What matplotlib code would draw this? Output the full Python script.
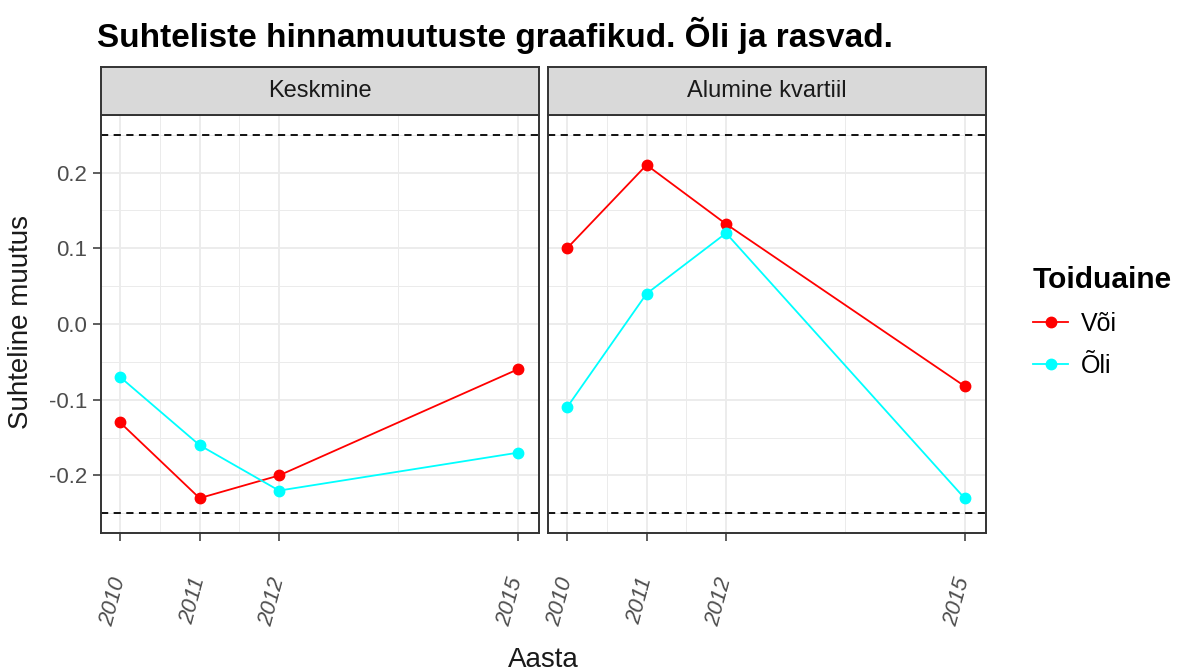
import numpy as np
import matplotlib.pyplot as plt
from matplotlib.lines import Line2D
from matplotlib.transforms import ScaledTranslation

plt.rcParams["font.family"] = ["Liberation Sans", "DejaVu Sans"]

aastad = [2010, 2011, 2012, 2015]
paneelid = ["Keskmine", "Alumine kvartiil"]
voi = {
    "Keskmine": [-0.13, -0.23, -0.20, -0.06],
    "Alumine kvartiil": [0.10, 0.21, 0.132, -0.082],
}
oli = {
    "Keskmine": [-0.07, -0.16, -0.22, -0.17],
    "Alumine kvartiil": [-0.11, 0.04, 0.12, -0.23],
}
piirid = [0.25, -0.25]

W, H = 1180, 672
fig = plt.figure(figsize=(W / 100, H / 100), dpi=100)

panel_x = [101, 548]
panel_w = 438
top, bottom = 115, 533
strip_h = 48

for i, nimi in enumerate(paneelid):
    x0 = panel_x[i]
    ax = fig.add_axes([x0 / W, 1 - bottom / H, panel_w / W, (bottom - top) / H])
    ax.set_xlim(2009.76, 2015.27)
    ax.set_ylim(-0.276, 0.276)
    ax.set_xticks(aastad)
    ax.set_xticks([2010.5, 2011.5, 2013.5], minor=True)
    ax.set_yticks([-0.2, -0.1, 0.0, 0.1, 0.2])
    ax.set_yticks([-0.25, -0.15, -0.05, 0.05, 0.15, 0.25], minor=True)
    ax.grid(True, which="major", color="#EBEBEB", lw=1.3)
    ax.grid(True, which="minor", color="#EBEBEB", lw=0.7)
    ax.set_axisbelow(True)
    for s in ax.spines.values():
        s.set_color("#333333")
        s.set_linewidth(1.4)
    ax.tick_params(which="minor", length=0)
    ax.tick_params(which="major", length=6, width=1.1, color="#333333",
                   labelcolor="#4D4D4D", labelsize=16)
    ax.tick_params(axis="x", pad=24)
    ax.tick_params(axis="y", pad=4)
    ax.set_xticklabels([str(a) for a in aastad], rotation=75,
                       style="italic", ha="center", va="top")
    for lab in ax.get_xticklabels():
        lab.set_transform(lab.get_transform()
                          + ScaledTranslation(-0.07, 0, fig.dpi_scale_trans))
    if i == 0:
        ax.set_yticklabels(["-0.2", "-0.1", "0.0", "0.1", "0.2"])
    else:
        ax.set_yticklabels([])
        ax.tick_params(axis="y", length=0)
    for p in piirid:
        ax.axhline(p, color="black", ls=(0, (4, 3)), lw=1.3)
    ax.plot(aastad, voi[nimi], color="#FF0000", lw=1.3, marker="o", ms=7.5)
    ax.plot(aastad, oli[nimi], color="#00FFFF", lw=1.3, marker="o", ms=7.5)

    sax = fig.add_axes([x0 / W, 1 - top / H, panel_w / W, strip_h / H])
    sax.set_facecolor("#D9D9D9")
    sax.set_xticks([])
    sax.set_yticks([])
    for s in sax.spines.values():
        s.set_color("#333333")
        s.set_linewidth(1.4)
    sax.text(0.5, 0.5, nimi, ha="center", va="center", fontsize=17,
             color="#1A1A1A", transform=sax.transAxes)

fig.text(97 / W, 1 - 47 / H, "Suhteliste hinnamuutuste graafikud. Õli ja rasvad.",
         fontsize=24, fontweight="bold", ha="left", va="baseline")
fig.text((101 + 986) / 2 / W, 1 - 667 / H, "Aasta", fontsize=20,
         ha="center", va="baseline", color="#1A1A1A")
fig.text(21 / W, 1 - 322 / H, "Suhteline muutus", fontsize=20, rotation=90,
         ha="center", va="center", color="#1A1A1A")

handles = [
    Line2D([], [], color="#FF0000", lw=1.3, marker="o", ms=7.5),
    Line2D([], [], color="#00FFFF", lw=1.3, marker="o", ms=7.5),
]
leg = fig.legend(handles, ["Või", "Õli"], title="Toiduaine",
                 loc="upper left", bbox_to_anchor=(1033 / W, 1 - 266 / H),
                 frameon=False, fontsize=18, title_fontsize=21.5,
                 handlelength=1.4, handletextpad=0.5, labelspacing=0.72,
                 borderpad=0, borderaxespad=0, alignment="left")
leg.get_title().set_fontweight("bold")

fig.savefig("out.png", dpi=100)
